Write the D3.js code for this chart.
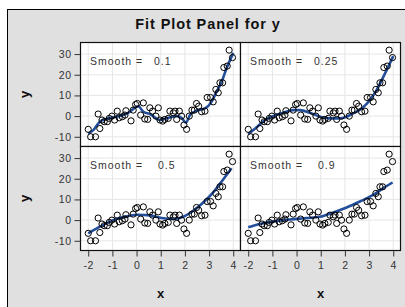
<!DOCTYPE html>
<html><head><meta charset="utf-8">
<script src="https://cdn.jsdelivr.net/npm/d3@7"></script>
<style>
html,body{margin:0;padding:0;background:#fff;}
svg{display:block;font-family:"Liberation Sans",Arial,sans-serif;}
</style></head>
<body>
<script>
// ---- data ----
const xData = [-2.0,-1.9,-1.7,-1.59,-1.52,-1.43,-1.34,-1.21,-1.13,-1.02,-0.91,-0.8,-0.72,-0.59,-0.48,-0.44,-0.23,-0.14,-0.04,0.03,0.17,0.28,0.34,0.46,0.55,0.66,0.8,0.9,0.97,1.08,1.17,1.31,1.38,1.52,1.59,1.66,1.77,1.86,1.96,2.07,2.18,2.29,2.39,2.48,2.57,2.69,2.83,2.92,3.06,3.17,3.28,3.38,3.45,3.56,3.61,3.75,3.83,3.97];
const yData = [-6.4,-10.0,-10.0,1.0,-6.0,-1.9,-2.7,-2.7,-1.1,0.0,-1.9,2.4,-0.8,-0.3,0.5,2.6,-2.3,2.9,5.6,6.1,0.5,6.4,-1.4,-1.6,4.0,2.4,0.0,4.0,-1.9,-2.4,-1.6,-1.1,2.4,1.6,2.4,-1.6,2.4,0.0,-4.3,-6.4,0.0,2.9,2.9,6.1,4.8,2.1,2.4,9.0,9.0,6.9,12.9,11.3,16.1,16.1,23.5,24.2,31.9,28.3];

const smoothLabels = ["0.1","0.25","0.5","0.9"];
const fitX1 = [-2,-1.79,-1.52,-1.31,-0.97,-0.55,-0.28,0.07,0.28,0.55,0.97,1.24,1.66,1.86,2.04,2.21,2.48,2.83,3.10,3.31,3.52,3.72,4.0];
const fitY1 = [-8.4,-6.8,-2.7,-1.6,-0.6,0.5,2.1,4.8,2.1,1.0,-1.9,-1.1,0.0,-0.8,-3.2,0.5,2.6,3.7,6.9,11.8,16.6,23.0,30.6];
const fitX2 = [-2,-1.66,-1.31,-0.97,-0.55,-0.14,0.14,0.55,0.97,1.38,1.79,2.07,2.34,2.69,3.03,3.31,3.59,3.79,4.0];
const fitY2 = [-8.7,-5.5,-1.9,0.0,1.6,2.9,2.9,1.6,-0.3,-1.1,-1.1,-0.3,1.3,3.7,7.7,12.6,19.0,23.8,29.0];
const fitX3 = [-2,-1.52,-0.97,-0.41,0.07,0.55,1.03,1.52,1.93,2.34,2.76,3.17,3.59,3.93];
const fitY3 = [-6.4,-3.2,0.0,1.8,2.6,2.3,1.0,0.5,1.6,4.5,8.5,13.4,19.8,25.1];
const fitX4 = [-2,-1.52,-0.97,-0.28,0.41,0.97,1.52,2.07,2.62,3.17,3.59,3.97];
const fitY4 = [-3.5,-1.9,-0.6,0.3,1.0,1.6,3.7,6.1,9.0,12.2,15.5,18.2];
const fitsX = [fitX1, fitX2, fitX3, fitX4];
const fitsY = [fitY1, fitY2, fitY3, fitY4];

const xTicks = [-2,-1,0,1,2,3,4];
const yTicks = [-10,0,10,20,30];

// ---- layout ----
const W = 405, H = 307;
const svg = d3.select("body").append("svg").attr("width", W).attr("height", H);
svg.append("rect").attr("x",7.5).attr("y",9.5).attr("width",410).attr("height",310)
  .attr("fill","#e0e0e0").attr("stroke","#000").attr("stroke-width",1);

svg.append("text").attr("x",208).attr("y",28.5).attr("text-anchor","middle")
  .attr("font-size",14.5).attr("font-weight","bold").attr("fill","#111")
  .attr("letter-spacing",0.9)
  .text("Fit Plot Panel for y");

const pw = 160, ph = 104;
const colX = [80.5, 240.5], rowY = [42.5, 146.5];
const x = d3.scaleLinear().domain([-2.32, 4.30]).range([0, pw]);
const y = d3.scaleLinear().domain([-14.7, 35.6]).range([ph, 0]);

const valueX = [73.5, 73.5, 77.5, 77.5];
const defs = svg.append("defs");
defs.append("clipPath").attr("id","clip").append("rect").attr("width",pw).attr("height",ph);

const line = d3.line().curve(d3.curveMonotoneX);
const fmt = d => String(d);

for (let i = 0; i < 4; i++) {
  const r = Math.floor(i/2), c = i % 2;
  const g = svg.append("g").attr("transform", `translate(${colX[c]},${rowY[r]})`);
  g.append("rect").attr("width",pw).attr("height",ph).attr("fill","#fff");
  // grid
  g.selectAll(".gx").data(xTicks).enter().append("line")
    .attr("x1",d=>x(d)).attr("x2",d=>x(d)).attr("y1",0).attr("y2",ph)
    .attr("stroke","#e6e6e6").attr("stroke-width",1);
  g.selectAll(".gy").data(yTicks).enter().append("line")
    .attr("y1",d=>y(d)).attr("y2",d=>y(d)).attr("x1",0).attr("x2",pw)
    .attr("stroke","#e6e6e6").attr("stroke-width",1);
  const inner = g.append("g").attr("clip-path","url(#clip)");
  inner.append("path")
    .attr("d", line(fitsX[i].map((v,k)=>[x(v), y(fitsY[i][k])])))
    .attr("fill","none").attr("stroke","#234e9b").attr("stroke-width",2.6);
  inner.selectAll("circle").data(xData).enter().append("circle")
    .attr("cx",d=>x(d)).attr("cy",(d,k)=>y(yData[k])).attr("r",3.1)
    .attr("fill","none").attr("stroke","#000").attr("stroke-width",1);
  g.append("text").attr("x",9.5).attr("y",22.5).attr("font-size",10.5).attr("fill","#333")
    .attr("letter-spacing",1).text("Smooth =");
  g.append("text").attr("x",valueX[i]).attr("y",22.5).attr("font-size",10.5).attr("fill","#333")
    .attr("letter-spacing",1).text(smoothLabels[i]);
  g.append("rect").attr("width",pw).attr("height",ph).attr("fill","none")
    .attr("stroke","#111").attr("stroke-width",1.2);

  if (c === 0) {
    const ax = d3.axisLeft(y).tickValues(yTicks).tickFormat(fmt).tickSize(6).tickPadding(3);
    const a = g.append("g").call(ax);
    a.select(".domain").remove();
    a.selectAll("line").attr("stroke","#333");
    a.selectAll("text").attr("font-size",10.5).attr("fill","#333").attr("letter-spacing",0.5)
      .attr("font-family","Liberation Sans, Arial, sans-serif");
    svg.append("text").attr("transform",`translate(29,${rowY[r]+ph/2}) rotate(-90)`)
      .attr("text-anchor","middle").attr("font-size",13).attr("font-weight","bold").attr("fill","#111").text("y");
  }
  if (r === 1) {
    const ax = d3.axisBottom(x).tickValues(xTicks).tickFormat(fmt).tickSize(6).tickPadding(5);
    const a = g.append("g").attr("transform",`translate(0,${ph})`).call(ax);
    a.select(".domain").remove();
    a.selectAll("line").attr("stroke","#333");
    a.selectAll("text").attr("font-size",10.5).attr("fill","#333").attr("letter-spacing",0.5)
      .attr("font-family","Liberation Sans, Arial, sans-serif");
    svg.append("text").attr("x",colX[c]+pw/2).attr("y",298)
      .attr("text-anchor","middle").attr("font-size",13).attr("font-weight","bold").attr("fill","#111").text("x");
  }
}
</script>
</body></html>
